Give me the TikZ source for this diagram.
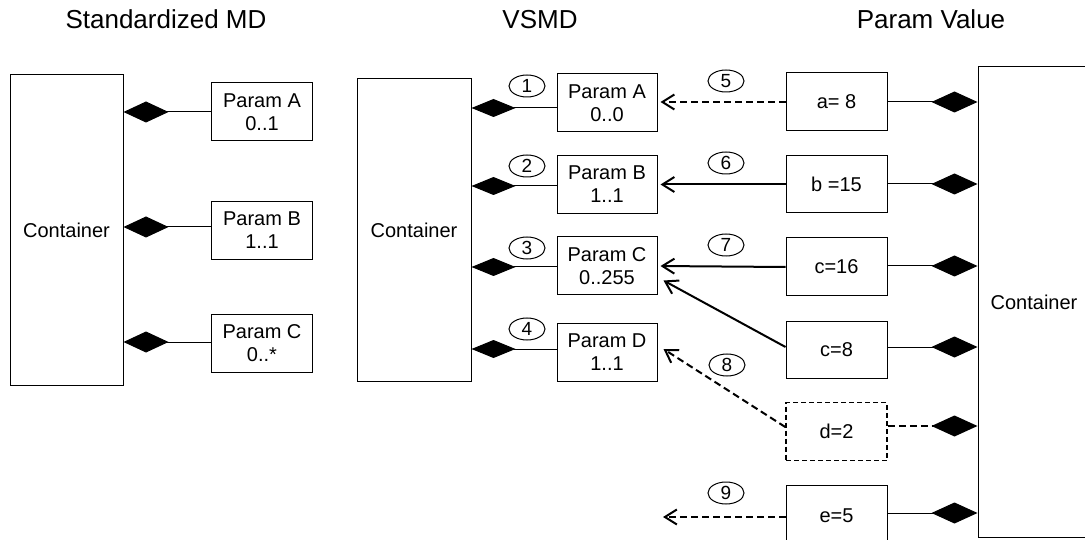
\documentclass[tikz,border=0pt]{standalone}
\usepackage{fontspec}
\setmainfont{Liberation Sans}
\usetikzlibrary{arrows.meta,shapes.geometric}
\begin{document}
\begin{tikzpicture}[x=1pt,y=-1pt,
  title/.style={font=\fontsize{26}{30}\selectfont, anchor=base},
  box/.style={draw, line width=1pt, inner sep=0pt, align=center, font=\fontsize{20}{23}\selectfont},
  pbox/.style={box, minimum width=101pt, minimum height=58pt},
  num/.style={draw, ellipse, line width=1pt, minimum width=36pt, minimum height=22pt, inner sep=0pt, font=\fontsize{19}{19}\selectfont},
  compL/.style={line width=1pt, -{Diamond[length=45pt,width=21pt]}},
  compM/.style={line width=1pt, -{Diamond[length=44pt,width=18pt]}},
  compR/.style={line width=1pt, -{Diamond[length=46pt,width=21pt]}},
  dep/.style={line width=2pt, -{Straight Barb[length=12pt,width=15pt]}},
  dsh/.style={dash pattern=on 7pt off 4pt}
]
\useasboundingbox (0,0) rectangle (1085,540);
\clip (0,0) rectangle (1085,540);

% titles
\node[title] (t1) at (166,29) {Standardized MD};
\node[title] (t2) at (540,29) {VSMD};
\node[title] (t3) at (931,29) {Param Value};

% left: standardized MD
\node[box, minimum width=113pt, minimum height=310pt] (lc) at (66.5,230) {Container};
\node[pbox] (la) at (262,112) {Param A\\0..1};
\node[pbox] (lb) at (262,230.5) {Param B\\1..1};
\node[pbox] (lp) at (262,343.5) {Param C\\0..*};
\draw[compL] (la.west) -- (la.west -| lc.east);
\draw[compL] ([yshift=3.5pt]lb.west) -- ([yshift=3.5pt]lb.west -| lc.east);
\draw[compL] ([yshift=1.5pt]lp.west) -- ([yshift=1.5pt]lp.west -| lc.east);

% middle: VSMD
\node[box, minimum width=114pt, minimum height=302pt] (mc) at (414,230) {Container};
\node[pbox, minimum width=100pt] (ma) at (607,103) {Param A\\0..0};
\node[pbox, minimum width=100pt] (mb) at (607,184.5) {Param B\\1..1};
\node[pbox, minimum width=100pt] (mp) at (607,266) {Param C\\0..255};
\node[pbox, minimum width=100pt] (md) at (607,352.5) {Param D\\1..1};
\draw[compM] ([yshift=-5pt]ma.west) -- ([yshift=-5pt]ma.west -| mc.east);
\draw[compM] ([yshift=-1.5pt]mb.west) -- ([yshift=-1.5pt]mb.west -| mc.east);
\draw[compM] ([yshift=-1pt]mp.west) -- ([yshift=-1pt]mp.west -| mc.east);
\draw[compM] ([yshift=3.5pt]md.west) -- ([yshift=3.5pt]md.west -| mc.east);
\node[num] (n1) at (527,86) {1};
\node[num] (n2) at (527,166) {2};
\node[num] (n3) at (527,248) {3};
\node[num] (n4) at (527,329) {4};

% right: param values
\node[box, minimum width=112pt, minimum height=470pt] (rc) at (1034,302) {Container};
\node[pbox] (va) at (836.5,102) {a= 8};
\node[pbox, minimum height=57pt] (vb) at (836.5,184.5) {b =15};
\node[pbox] (vc) at (836.5,267) {c=16};
\node[pbox, minimum height=57pt] (vc8) at (836.5,349.5) {c=8};
\node[pbox, dash pattern=on 5pt off 3pt, line width=1.5pt] (vd) at (836.5,431.5) {d=2};
\node[pbox, minimum height=62pt] (ve) at (836.5,516) {e=5};
\draw[compR] (va.east) -- (va.east -| rc.west);
\draw[compR] ([yshift=0.5pt]vb.east) -- ([yshift=0.5pt]vb.east -| rc.west);
\draw[compR] ([yshift=1pt]vc.east) -- ([yshift=1pt]vc.east -| rc.west);
\draw[compR] ([yshift=2.5pt]vc8.east) -- ([yshift=2.5pt]vc8.east -| rc.west);
\draw[compR, dsh, line width=2pt] ([yshift=5.5pt]vd.east) -- ([yshift=5.5pt]vd.east -| rc.west);
\draw[compR] ([yshift=3pt]ve.east) -- ([yshift=3pt]ve.east -| rc.west);

% dependency arrows
\coordinate (e9) at (663,517);
\draw[dep, dsh, shorten >=3pt] (va.west) -- (va.west -| ma.east);
\draw[dep, shorten >=3pt] (vb.west) -- (vb.west -| mb.east);
\draw[dep, shorten >=3pt] (vc.west) -- ([yshift=1pt]vc.west -| mp.east);
\draw[dep] ([yshift=2.5pt]vc8.west) -- ([xshift=6pt,yshift=15pt]mp.south east);
\draw[dep, dsh] ([yshift=4.5pt]vd.west) -- ([xshift=6pt,yshift=3.5pt]md.east);
\draw[dep, dsh] ([yshift=-1pt]ve.west) -- (e9);
\node[num] (n5) at (726,81) {5};
\node[num] (n6) at (726,163) {6};
\node[num] (n7) at (726,245) {7};
\node[num] (n8) at (727,365) {8};
\node[num] (n9) at (726,493) {9};
\end{tikzpicture}
\end{document}
